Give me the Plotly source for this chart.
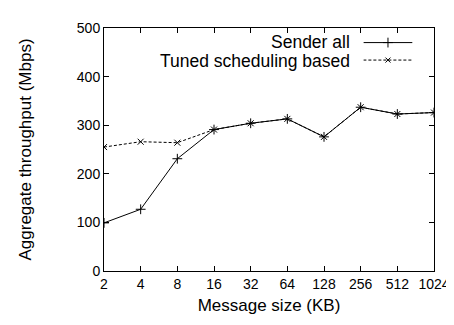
import plotly.graph_objects as go

sizes = ["2", "4", "8", "16", "32", "64", "128", "256", "512", "1024"]
sender_all = [99, 127, 231, 291, 304, 313, 276, 337, 323, 326]
tuned = [255, 266, 264, 291, 304, 313, 276, 337, 323, 326]
y_ticks = [0, 100, 200, 300, 400, 500]

FONT = "Liberation Sans, Arial, sans-serif"

fig = go.Figure()
fig.add_trace(go.Scatter(
    x=list(range(len(sizes))), y=sender_all, mode="lines+markers", name="Sender all",
    line=dict(color="black", width=1),
    marker=dict(symbol="cross-thin", size=7, line=dict(color="black", width=1)),
    showlegend=False))
fig.add_trace(go.Scatter(
    x=list(range(len(sizes))), y=tuned, mode="lines+markers", name="Tuned scheduling based",
    line=dict(color="black", width=1, dash="3px,2px"),
    marker=dict(symbol="x-thin", size=6, line=dict(color="black", width=1)),
    showlegend=False))

# legend samples on a separate small axis (range 0..1 in both directions)
fig.add_trace(go.Scatter(x=[0, 1], y=[0.75, 0.75], xaxis="x2", yaxis="y2", mode="lines",
                         line=dict(color="black", width=1), showlegend=False, hoverinfo="skip"))
fig.add_trace(go.Scatter(x=[0.5], y=[0.75], xaxis="x2", yaxis="y2", mode="markers",
                         marker=dict(symbol="cross-thin", size=7, line=dict(color="black", width=1)),
                         showlegend=False, hoverinfo="skip"))
fig.add_trace(go.Scatter(x=[0, 1], y=[0.25, 0.25], xaxis="x2", yaxis="y2", mode="lines",
                         line=dict(color="black", width=1, dash="3px,2px"), showlegend=False, hoverinfo="skip"))
fig.add_trace(go.Scatter(x=[0.5], y=[0.25], xaxis="x2", yaxis="y2", mode="markers",
                         marker=dict(symbol="x-thin", size=5, line=dict(color="black", width=1)),
                         showlegend=False, hoverinfo="skip"))

fig.add_annotation(text="Sender all", x=0.75, y=0.943, xref="paper", yref="paper",
                   xanchor="right", yanchor="middle", showarrow=False,
                   font=dict(family=FONT, size=17.5, color="black"))
fig.add_annotation(text="Tuned scheduling based", x=0.75, y=0.866, xref="paper", yref="paper",
                   xanchor="right", yanchor="middle", showarrow=False,
                   font=dict(family=FONT, size=17.5, color="black"))

fig.update_layout(
    width=454, height=325,
    margin=dict(l=96, r=22, t=13, b=62),
    plot_bgcolor="rgba(0,0,0,0)", paper_bgcolor="white",
    font=dict(family=FONT, size=14, color="black"),
    xaxis=dict(range=[0, len(sizes) - 1], tickmode="array", tickvals=list(range(len(sizes))),
               ticktext=sizes, ticks="inside", ticklen=5, tickcolor="black",
               showline=True, linecolor="black", linewidth=1, mirror="ticks",
               showgrid=False, zeroline=False,
               title=dict(text="Message size (KB)", standoff=8)),
    yaxis=dict(range=[0, 500], tickvals=y_ticks, ticks="inside", ticklen=5, tickcolor="black",
               showline=True, linecolor="black", linewidth=1, mirror="ticks",
               showgrid=False, zeroline=False,
               title=dict(text="Aggregate throughput (Mbps)", standoff=40)),
    xaxis2=dict(domain=[0.786, 0.935], range=[0, 1], visible=False, anchor="y2"),
    yaxis2=dict(domain=[0.832, 0.976], range=[0, 1], visible=False, anchor="x2"),
)

fig.write_html("out.html")
